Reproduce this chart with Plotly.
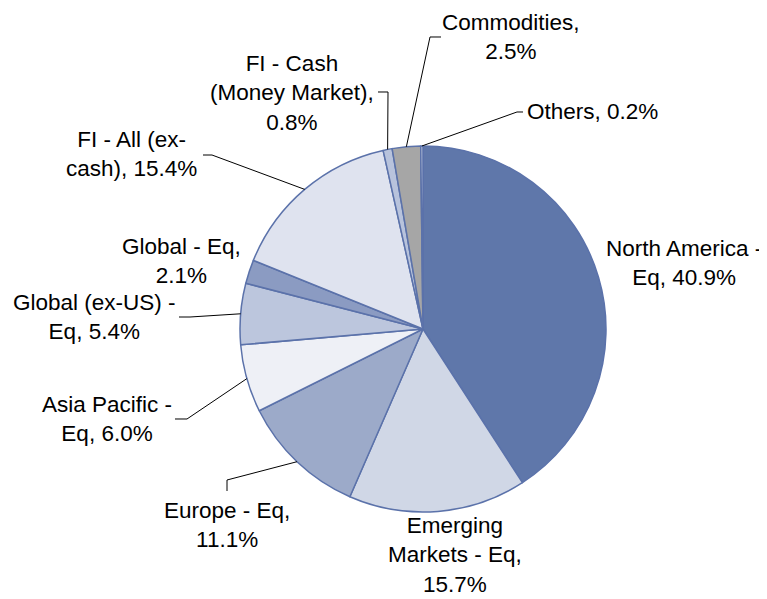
import math
import plotly.graph_objects as go

labels = ["North America - Eq", "Emerging Markets - Eq", "Europe - Eq", "Asia Pacific - Eq",
          "Global (ex-US) - Eq", "Global - Eq", "FI - All (ex-cash)", "FI - Cash (Money Market)",
          "Commodities", "Others"]
values = [40.9, 15.7, 11.1, 6.0, 5.4, 2.1, 15.4, 0.8, 2.5, 0.2]
label_texts = ["North America -<br>Eq, 40.9%", "Emerging<br>Markets - Eq,<br>15.7%",
               "Europe - Eq,<br>11.1%", "Asia Pacific -<br>Eq, 6.0%",
               "Global (ex-US) -<br>Eq, 5.4%", "Global - Eq,<br>2.1%",
               "FI - All (ex-<br>cash), 15.4%", "FI - Cash<br>(Money Market),<br>0.8%",
               "Commodities,<br>2.5%", "Others, 0.2%"]
colors = ["#5f77aa", "#d0d7e6", "#9caac9", "#eef0f6", "#bcc6dd", "#8b9bc2",
          "#dfe3ef", "#b8c3dc", "#a6a6a6", "#c4cce0"]

W, H = 767, 599
OFF = 8  # page body margin offset
CX, CY, R = 423, 329, 183

# label block centres (px) and leader elbow points (px); None = no leader
label_pos = [(684, 263), (455, 555), (227, 525), (107, 419), (94, 317),
             (181, 261), (131, 154), (292, 93), (511, 37), (592, 112)]
leaders = [None, None,
           [(227, 491), (227, 480)],
           [(175, 419), (187, 419)],
           [(179, 317), (190, 317)],
           None,
           [(203, 155), (212, 155)],
           [(378, 92), (388, 92)],
           [(441, 37), (430, 37)],
           [(523, 112), (517, 112)]]

def px(x, y):
    return (x - OFF) / W, 1 - (y - OFF) / H

x0, y1 = px(CX - R, CY - R)
x1, y0 = px(CX + R, CY + R)
fig = go.Figure(go.Pie(
    labels=labels, values=values, sort=False, direction="clockwise", rotation=0,
    marker=dict(colors=colors, line=dict(color="#5b72aa", width=1.5)),
    textinfo="none", hoverinfo="label+percent",
    domain=dict(x=[x0, x1], y=[y0, y1]),
))

total = sum(values)
cum = 0
shapes = []
annotations = []
for i, v in enumerate(values):
    mid = (cum + v / 2) / total * 2 * math.pi
    cum += v
    ex = CX + R * math.sin(mid)
    ey = CY - R * math.cos(mid)
    if leaders[i]:
        pts = leaders[i] + [(ex, ey)]
        path = "M " + " L ".join(f"{px(x, y)[0]:.5f},{px(x, y)[1]:.5f}" for x, y in pts)
        shapes.append(dict(type="path", xref="paper", yref="paper", path=path,
                           line=dict(color="black", width=1)))
    lx, ly = px(*label_pos[i])
    annotations.append(dict(x=lx, y=ly, xref="paper", yref="paper", text=label_texts[i],
                            showarrow=False, align="center", xanchor="center", yanchor="middle",
                            font=dict(family="Liberation Sans, Arial, sans-serif", size=22.5, color="black")))

fig.update_layout(width=W, height=H, margin=dict(l=0, r=0, t=0, b=0),
                  paper_bgcolor="white", plot_bgcolor="white", showlegend=False,
                  shapes=shapes, annotations=annotations)
fig.write_html("out.html")
